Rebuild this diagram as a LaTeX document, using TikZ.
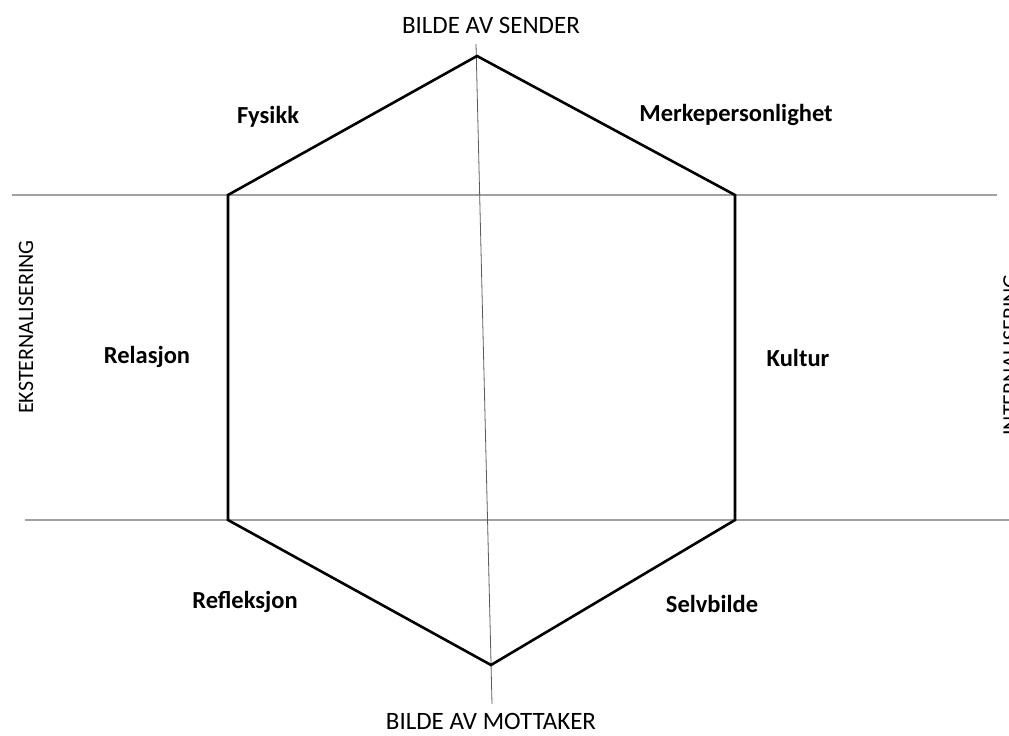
\documentclass[tikz,border=0pt]{standalone}
\usepackage{fontspec}
\setmainfont{Carlito}
\usetikzlibrary{positioning}

\begin{document}
\begin{tikzpicture}[x=1pt, y=-1pt]
	\definecolor{axisColour}{RGB}{160, 160, 160}
	\definecolor{spineColour}{RGB}{90, 90, 90}
	\tikzset{
		axis/.style={color=axisColour, line width=1.4pt},
		spine/.style={color=spineColour, line width=0.8pt},
		hexline/.style={color=black, line width=2.6pt, line join=miter},
		pole/.style={font=\fontsize{25}{30}\selectfont},
		side/.style={font=\fontsize{22}{26}\selectfont, rotate=90},
		facet/.style={font=\fontsize{24.5}{29}\selectfont\bfseries}
	}

	\useasboundingbox (0,0) rectangle (1009,736);

	% hexagon corners
	\coordinate (hexTop) at (477,56);
	\coordinate (hexUL) at (228,195);
	\coordinate (hexLL) at (228,520);
	\coordinate (hexBot) at (491,665);
	\coordinate (hexLR) at (735,520);
	\coordinate (hexUR) at (735,195);

	% line ends
	\coordinate (upperW) at (12,195);
	\coordinate (upperE) at (997,195);
	\coordinate (lowerW) at (25,520);
	\coordinate (lowerE) at (1012,520);
	\coordinate (spineN) at (476,44);
	\coordinate (spineS) at (492,704);

	\draw[axis] (upperW) -- (upperE);
	\draw[axis] (lowerW) -- (lowerE);
	\draw[spine] (spineN) -- (spineS);

	\draw[hexline] (hexTop) -- (hexUR) -- (hexLR) -- (hexBot) -- (hexLL) -- (hexUL) -- cycle;

	% poles
	\node[pole] (sender) at (491,25) {BILDE AV SENDER};
	\node[pole] (mottaker) at (491,721) {BILDE AV MOTTAKER};
	\node[side] (ekstern) at (26,327) {EKSTERNALISERING};
	\node[side] (intern) at (1010.5,355) {INTERNALISERING};

	% facets
	\node[facet] (fysikk) at (268,117) {Fysikk};
	\node[facet] (merke) at (736,115) {Merkepersonlighet};
	\node[facet] (relasjon) at (147,357) {Relasjon};
	\node[facet] (kultur) at (798,358) {Kultur};
	\node[facet] (refleksjon) at (245,602) {Refleksjon};
	\node[facet] (selvbilde) at (712,604) {Selvbilde};
\end{tikzpicture}
\end{document}
